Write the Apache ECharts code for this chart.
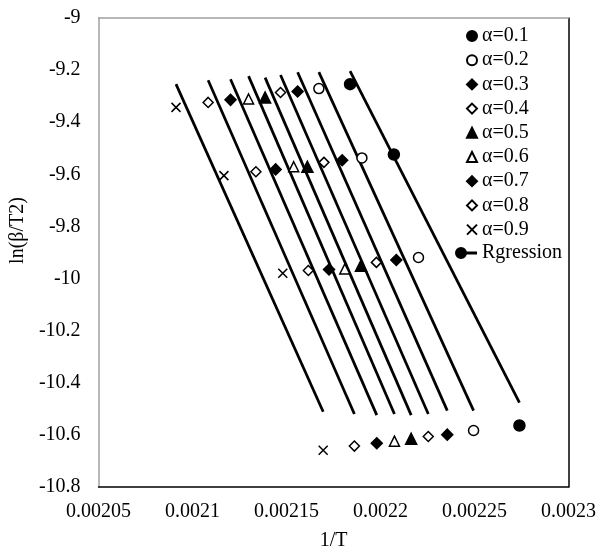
<!DOCTYPE html>
<html>
<head>
<meta charset="utf-8">
<script src="https://cdn.jsdelivr.net/npm/echarts@6/dist/echarts.min.js"></script>
<style>
  html, body { margin: 0; padding: 0; background: #fff; }
  #chart { width: 599px; height: 556px; }
</style>
</head>
<body>
<div id="chart"></div>
<script>
// Series names (conversion degree)
const alphaNames = ['α=0.1', 'α=0.2', 'α=0.3', 'α=0.4', 'α=0.5', 'α=0.6', 'α=0.7', 'α=0.8', 'α=0.9'];

// 1/T values for each heating rate (rows), one entry per alpha
const invT1 = [0.0021838, 0.0021672, 0.0021559, 0.0021468, 0.0021386, 0.0021298, 0.0021202, 0.0021083, 0.0020912];
const invT2 = [0.0022071, 0.0021901, 0.0021796, 0.0021699, 0.0021611, 0.0021538, 0.0021442, 0.0021337, 0.0021167];
const invT3 = [null,      0.0022202, 0.0022084, 0.0021978, 0.0021896, 0.0021810, 0.0021726, 0.0021616, 0.0021480];
const invT4 = [0.0022739, 0.0022495, 0.0022355, 0.0022254, 0.0022163, 0.0022074, 0.0021980, 0.0021861, 0.0021695];

// ln(beta/T^2) for each heating rate
const lnB1 = [-9.254, -9.271, -9.282, -9.286, -9.305, -9.311, -9.314, -9.324, -9.343];
const lnB2 = [-9.524, -9.537, -9.546, -9.554, -9.571, -9.571, -9.581, -9.590, -9.605];
const lnB3 = [null,   -9.919, -9.929, -9.938, -9.951, -9.963, -9.965, -9.969, -9.980];
const lnB4 = [-10.564, -10.583, -10.599, -10.606, -10.615, -10.624, -10.632, -10.643, -10.659];

// Regression line fitted values at the ends of each line
const fitStartX = invT1;
const fitEndX = invT4;
const fitStartY = [-9.204, -9.208, -9.208, -9.219, -9.229, -9.223, -9.235, -9.239, -9.254];
const fitEndY = [-10.476, -10.507, -10.507, -10.520, -10.524, -10.520, -10.524, -10.520, -10.511];

// Axis ranges
const xMin = 0.00205, xMax = 0.0023, xStep = 0.00005;
const yMin = -10.8, yMax = -9, yStep = 0.2;

const FONT = 'Liberation Serif';
const xPath = 'path://M0,0L10,10M10,0L0,10';
const markerDefs = [
  { symbol: 'circle', fill: '#000', size: 11 },
  { symbol: 'circle', fill: '#fff', size: 10 },
  { symbol: 'diamond', fill: '#000', size: 11 },
  { symbol: 'diamond', fill: '#fff', size: 10 },
  { symbol: 'triangle', fill: '#000', size: 11 },
  { symbol: 'triangle', fill: '#fff', size: 10 },
  { symbol: 'diamond', fill: '#000', size: 11 },
  { symbol: 'diamond', fill: '#fff', size: 10 },
  { symbol: xPath, fill: '#000', size: 9 }
];

const series = [];

// Regression lines (drawn first, markers on top)
alphaNames.forEach((_, i) => {
  series.push({
    name: 'Rgression',
    type: 'line',
    symbol: 'none',
    silent: true,
    lineStyle: { color: '#000', width: 2.75 },
    itemStyle: { color: '#000' },
    data: [[fitStartX[i], fitStartY[i]], [fitEndX[i], fitEndY[i]]],
    z: 2
  });
});

// Measured points
alphaNames.forEach((name, i) => {
  const rows = [[invT1[i], lnB1[i]], [invT2[i], lnB2[i]], [invT3[i], lnB3[i]], [invT4[i], lnB4[i]]]
    .filter(p => p[0] !== null);
  const m = markerDefs[i];
  series.push({
    name: name,
    type: 'scatter',
    symbol: m.symbol,
    symbolSize: m.size,
    itemStyle: { color: m.fill, borderColor: '#000', borderWidth: 1.5, opacity: 1 },
    data: rows,
    z: 3
  });
});

const fmt = (d) => (v) => String(Number(v.toFixed(d)));

const option = {
  animation: false,
  backgroundColor: '#fff',
  grid: { left: 92, right: 30, top: 18, bottom: 64 },
  legend: [
    {
      data: alphaNames,
      orient: 'vertical',
      left: 461,
      top: 21,
      itemWidth: 10,
      itemHeight: 10,
      itemGap: 4.2,
      selectedMode: false,
      textStyle: { fontFamily: FONT, fontSize: 20, color: '#000', lineHeight: 20 }
    },
    {
      data: [{ name: 'Rgression', icon: 'path://M6,0A6,6 0 1,1 6,12A6,6 0 1,1 6,0ZM10,4.5H22V7.5H10Z' }],
      orient: 'vertical',
      left: 450,
      top: 238,
      itemWidth: 22,
      itemHeight: 12,
      selectedMode: false,
      itemStyle: { color: '#000' },
      textStyle: { fontFamily: FONT, fontSize: 20, color: '#000', lineHeight: 20 }
    }
  ],
  xAxis: [
    {
      type: 'value', position: 'bottom',
      min: xMin, max: xMax, interval: xStep,
      axisLine: { show: true, onZero: false, lineStyle: { color: '#000', width: 1.5 } },
      axisTick: { show: false },
      splitLine: { show: false },
      axisLabel: { fontFamily: FONT, fontSize: 20, color: '#000', margin: 15, formatter: fmt(6) },
      name: '1/T', nameLocation: 'middle', nameGap: 44,
      nameTextStyle: { fontFamily: FONT, fontSize: 20, color: '#000' }
    },
    {
      type: 'value', position: 'top',
      min: xMin, max: xMax, interval: xStep,
      axisLine: { show: true, onZero: false, lineStyle: { color: '#a0a0a0', width: 1.5 } },
      axisTick: { show: false }, axisLabel: { show: false }, splitLine: { show: false }
    }
  ],
  yAxis: [
    {
      type: 'value', position: 'left',
      min: yMin, max: yMax, interval: yStep,
      axisLine: { show: true, onZero: false, lineStyle: { color: '#a0a0a0', width: 1.5 } },
      axisTick: { show: false },
      splitLine: { show: false },
      axisLabel: { fontFamily: FONT, fontSize: 20, color: '#000', margin: 18, formatter: fmt(1) },
      name: 'ln(β/T2)', nameLocation: 'middle', nameGap: 64,
      nameTextStyle: { fontFamily: FONT, fontSize: 20, color: '#000', padding: [0, 0, 0, 44] }
    },
    {
      type: 'value', position: 'right',
      min: yMin, max: yMax, interval: yStep,
      axisLine: { show: true, onZero: false, lineStyle: { color: '#000', width: 1.5 } },
      axisTick: { show: false }, axisLabel: { show: false }, splitLine: { show: false }
    }
  ],
  series: series
};

const chart = echarts.init(document.getElementById('chart'), null, { renderer: 'canvas' });
chart.setOption(option);
</script>
</body>
</html>
